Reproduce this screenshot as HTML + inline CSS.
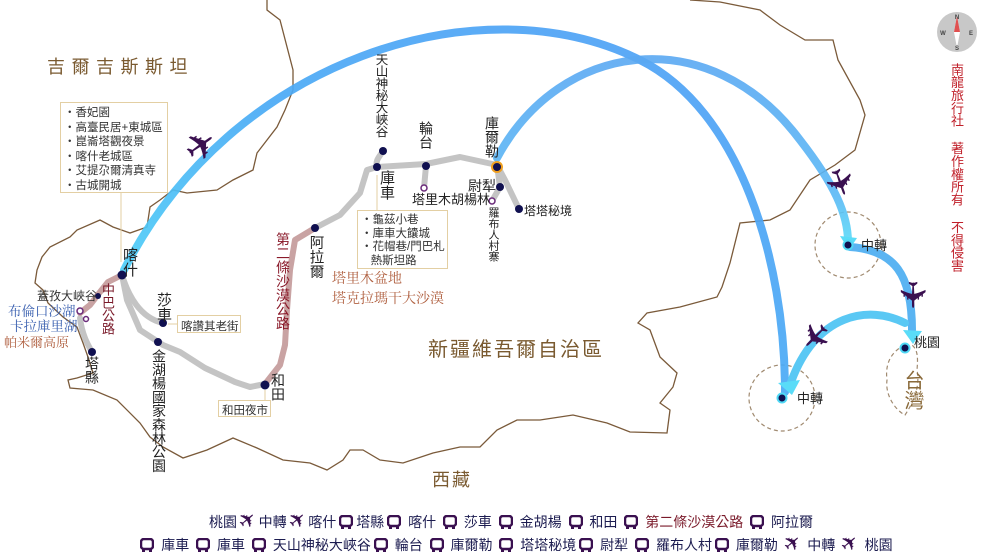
<!DOCTYPE html>
<html><head><meta charset="utf-8">
<style>
body{margin:0;background:#fff}
#w{position:relative;width:990px;height:560px;overflow:hidden;font-family:"Liberation Sans","Noto Sans CJK TC",sans-serif;color:#222}
.a{position:absolute;white-space:nowrap;line-height:1}
.v{position:absolute;writing-mode:vertical-rl;text-orientation:upright;line-height:1;white-space:nowrap}
.box{position:absolute;border:1px solid #e3cfa3;background:#fff;font-size:11.5px;color:#333;box-sizing:border-box;white-space:nowrap;overflow:hidden}
.leg{position:absolute;left:0;width:1022px;text-align:center;font-size:14px;color:#1c1c50;white-space:nowrap;line-height:18px}
.leg svg{vertical-align:-2px;margin:0 3px}
.pl{color:#3a1050;font-size:21px;font-family:"DejaVu Sans",sans-serif;display:inline-block;transform:rotate(-40deg);margin:0 2px;line-height:1}
.mp{position:absolute;margin:0}
</style></head><body><div id="w">
<svg width="990" height="560" style="position:absolute;left:0;top:0">
<defs>
<linearGradient id="g1" x1="0" y1="1" x2="1" y2="0"><stop offset="0" stop-color="#4fe0f8"/><stop offset="0.5" stop-color="#4aaaf5"/><stop offset="1" stop-color="#4f9ff5"/></linearGradient>
<linearGradient id="g2" x1="0" y1="0" x2="0" y2="1"><stop offset="0" stop-color="#5aa8f2"/><stop offset="0.75" stop-color="#5ab8f5"/><stop offset="1" stop-color="#5adaf7"/></linearGradient>
</defs>
<g fill="none" stroke="#7a5a3a" stroke-width="1.3">
<path d="M267,0 L267,10 280,20 293,70 293,90 285,110 277,127 257,153 253,170 233,180 217,190 187,193 173,190 160,200 150,207 147,227 130,233 113,227 100,220 77,230 70,237 50,247 42,257 37,270 35,283 43,290 48,303 63,317 77,327 83,343 88,357 93,373 77,378 68,380 70,388 93,390 117,400 140,423 150,437 163,447 183,458 207,450 233,438 257,448 283,460 310,463 327,470 343,460 350,450 363,450 380,460 403,463 433,453 460,447 480,447 497,430 517,420 540,420 573,415 607,423 630,432 667,433 670,410 660,403 673,387 677,373 660,357 650,330 638,323 647,313 680,307 717,297 722,287 730,263 740,223 770,220 790,210 810,180 835,165 855,150 865,115 860,100 838,60 833,40 805,40 780,25 760,10 720,2 690,0"/>
</g>
<g fill="none" stroke="#a08a70" stroke-width="1.2" stroke-dasharray="4,3">
<circle cx="848" cy="245" r="33"/><circle cx="782" cy="398" r="33"/>
<path d="M905,345 C890,352 885,365 887,380 C885,395 895,410 905,415 C915,400 920,385 917,370 C918,358 918,350 912,345"/>
</g>
<g fill="none" stroke-linecap="round" stroke-linejoin="round">
<path d="M122,275 L127,300 140,330 163,345 180,352 205,368 235,382 250,387 265,384" stroke="#c4c4c4" stroke-width="6"/>
<path d="M122,275 C128,295 140,318 163,323" stroke="#c4c4c4" stroke-width="6"/>
<path d="M80,318 C82,335 88,345 92,352" stroke="#c4c4c4" stroke-width="6"/>
<path d="M122,275 L108,282 100,292 90,305 80,313" stroke="#c9a3a3" stroke-width="6"/>
<path d="M265,384 L280,365 285,345 287,310 290,270 295,240 315,228" stroke="#c9a3a3" stroke-width="6"/>
<path d="M315,228 L340,215 360,193 367,170 377,167 M377,167 C375,160 380,156 383,151 M377,167 L426,164 460,157 497,165 500,187 M426,166 L424,188 M497,165 L505,180 519,209 M500,187 L492,201" stroke="#c4c4c4" stroke-width="6"/>
</g>
<g fill="none" stroke-linecap="round">
<path d="M124,270 C230,60 480,-20 640,60 C740,110 785,260 785,392" stroke="url(#g1)" stroke-width="8" opacity="0.92"/>
<path d="M497,158 C560,40 710,20 800,140 C835,185 848,215 848,242" stroke="url(#g2)" stroke-width="8" opacity="0.9"/>
<path d="M850,247 C895,250 912,275 912,330" stroke="#5ab4f2" stroke-width="8"/>
<path d="M905,323 C870,305 815,312 790,385" stroke="#5ac8f4" stroke-width="8"/>
</g>
<g fill="#5adcf8"><path d="M778,383 L792,395 800,380Z"/><path d="M840,236 L849,250 857,238Z"/><path d="M903,330 L913,344 922,331Z"/></g>
<g fill="#101050">
<circle cx="122" cy="275" r="4.5"/><circle cx="163" cy="323" r="4"/><circle cx="158" cy="342" r="4"/><circle cx="92" cy="352" r="4"/><circle cx="265" cy="385" r="4.5"/><circle cx="315" cy="228" r="4"/><circle cx="377" cy="167" r="4"/><circle cx="383" cy="151" r="4"/><circle cx="426" cy="166" r="4"/><circle cx="500" cy="187" r="4"/><circle cx="519" cy="209" r="4"/><circle cx="98" cy="296" r="3"/>
<circle cx="848" cy="245" r="4.5" stroke="#4fd8f5" stroke-width="2"/><circle cx="782" cy="398" r="4.5" stroke="#4fd8f5" stroke-width="2"/><circle cx="905" cy="348" r="4.5" stroke="#4fd8f5" stroke-width="2"/>
</g>
<circle cx="497" cy="167" r="5" fill="#101050" stroke="#f0a020" stroke-width="2"/>
<g fill="#fff" stroke="#6a2a7a" stroke-width="1.5"><circle cx="424" cy="188" r="3"/><circle cx="492" cy="201" r="3"/><circle cx="80" cy="311" r="3"/><circle cx="86" cy="319" r="2.5"/></g>
<g stroke="#e3cfa3" stroke-width="1"><line x1="121" y1="192" x2="121" y2="262"/><line x1="377" y1="175" x2="377" y2="210"/><line x1="168" y1="324" x2="177" y2="324"/><line x1="265" y1="390" x2="265" y2="400"/></g>
<circle cx="957" cy="32" r="20" fill="#c8c8c8"/>
<path d="M957,16 L960,32 957,48 954,32Z" fill="#fff"/><path d="M957,16 L960,32 954,32Z" fill="#e05050"/>
<g font-size="6" font-family="Liberation Sans" fill="#444" text-anchor="middle" font-weight="bold"><text x="957" y="19">N</text><text x="957" y="50">S</text><text x="943" y="35">W</text><text x="971" y="35">E</text></g>
</svg>

<div class="pl mp" style="left:185px;top:127px;font-size:38px;transform:rotate(-35deg)">✈</div>
<div class="pl mp" style="left:823px;top:165px;font-size:36px;transform:rotate(70deg)">✈</div>
<div class="pl mp" style="left:896px;top:277px;font-size:36px;transform:rotate(90deg)">✈</div>
<div class="pl mp" style="left:799px;top:317px;font-size:36px;transform:rotate(135deg)">✈</div>

<div class="a" style="left:47px;top:58px;font-size:18px;letter-spacing:6.5px;color:#7a5a30">吉爾吉斯斯坦</div>
<div class="box" style="left:60px;top:102px;width:108px;height:91px;padding:3px 0 0 3px;line-height:14.5px">・香妃園<br>・高臺民居+東城區<br>・崑崙塔觀夜景<br>・喀什老城區<br>・艾提尕爾清真寺<br>・古城開城</div>
<div class="v" style="left:122px;top:247px;font-size:15px">喀什</div>
<div class="v" style="left:101px;top:283px;font-size:13px;color:#7a1a2a">中巴公路</div>
<div class="a" style="left:37px;top:290px;font-size:12px;color:#333">蓋孜大峽谷</div>
<div class="a" style="left:8px;top:305px;font-size:13.5px;color:#3a60b0;font-family:'Liberation Serif','Noto Serif CJK SC',serif">布倫口沙湖</div>
<div class="a" style="left:10px;top:320px;font-size:13.5px;color:#3a60b0;font-family:'Liberation Serif','Noto Serif CJK SC',serif">卡拉庫里湖</div>
<div class="a" style="left:4px;top:336px;font-size:13px;color:#b06040;font-family:'Liberation Serif','Noto Serif CJK SC',serif">帕米爾高原</div>
<div class="v" style="left:85px;top:356px;font-size:14px">塔縣</div>
<div class="v" style="left:156px;top:292px;font-size:15px">莎車</div>
<div class="box" style="left:177px;top:315px;width:64px;height:18px;padding:2px 0 0 3px">喀讚其老街</div>
<div class="v" style="left:152px;top:349px;font-size:14px;letter-spacing:-0.3px">金湖楊國家森林公園</div>
<div class="v" style="left:271px;top:373px;font-size:14px">和田</div>
<div class="box" style="left:218px;top:400px;width:53px;height:17px;padding:1px 0 0 3px">和田夜市</div>
<div class="v" style="left:276px;top:232px;font-size:14px;color:#8a1a2a">第二條沙漠公路</div>
<div class="v" style="left:308px;top:235px;font-size:14.5px">阿拉爾</div>
<div class="a" style="left:332px;top:273px;font-size:14px;color:#b06040;font-family:'Liberation Serif','Noto Serif CJK SC',serif">塔里木盆地</div>
<div class="a" style="left:332px;top:293px;font-size:14px;color:#b06040;font-family:'Liberation Serif','Noto Serif CJK SC',serif">塔克拉瑪干大沙漠</div>
<div class="v" style="left:374px;top:53px;font-size:12.5px;letter-spacing:-0.5px">天山神秘大峽谷</div>
<div class="v" style="left:379px;top:170px;font-size:15px">庫車</div>
<div class="box" style="left:357px;top:210px;width:91px;height:59px;padding:3px 0 0 3px;line-height:13.5px">・龜茲小巷<br>・庫車大饢城<br>・花帽巷/門巴札<br>&nbsp;&nbsp;&nbsp;熱斯坦路</div>
<div class="v" style="left:419px;top:121px;font-size:14px">輪台</div>
<div class="a" style="left:412px;top:193px;font-size:13px">塔里木胡楊林</div>
<div class="v" style="left:485px;top:116px;font-size:14px">庫爾勒</div>
<div class="a" style="left:468px;top:179px;font-size:14px">尉犁</div>
<div class="v" style="left:487px;top:207px;font-size:11px">羅布人村寨</div>
<div class="a" style="left:524px;top:205px;font-size:12px">塔塔秘境</div>
<div class="a" style="left:428px;top:340px;font-size:20px;letter-spacing:2px;color:#7a5a30">新疆維吾爾自治區</div>
<div class="a" style="left:432px;top:471px;font-size:18px;letter-spacing:2px;color:#7a5a30">西藏</div>
<div class="a" style="left:861px;top:239px;font-size:13px">中轉</div>
<div class="a" style="left:914px;top:336px;font-size:13px">桃園</div>
<div class="a" style="left:797px;top:392px;font-size:13px">中轉</div>
<div class="v" style="left:902px;top:370px;font-size:20px;color:#8a6a3a">台灣</div>
<div class="v" style="left:950px;top:63px;font-size:13px;color:#c0202a;letter-spacing:-0.2px">南龍旅行社 著作權所有 不得侵害</div>

<div class="leg" style="top:510px">桃園<span class="pl">✈</span>中轉<span class="pl">✈</span>喀什<svg width="14" height="14"><rect x="1" y="1" width="12" height="10" rx="3" fill="none" stroke="#3a1050" stroke-width="2.5"/><rect x="2" y="11" width="3" height="3" fill="#3a1050"/><rect x="9" y="11" width="3" height="3" fill="#3a1050"/></svg>塔縣<svg width="14" height="14"><rect x="1" y="1" width="12" height="10" rx="3" fill="none" stroke="#3a1050" stroke-width="2.5"/><rect x="2" y="11" width="3" height="3" fill="#3a1050"/><rect x="9" y="11" width="3" height="3" fill="#3a1050"/></svg> 喀什 <svg width="14" height="14"><rect x="1" y="1" width="12" height="10" rx="3" fill="none" stroke="#3a1050" stroke-width="2.5"/><rect x="2" y="11" width="3" height="3" fill="#3a1050"/><rect x="9" y="11" width="3" height="3" fill="#3a1050"/></svg> 莎車 <svg width="14" height="14"><rect x="1" y="1" width="12" height="10" rx="3" fill="none" stroke="#3a1050" stroke-width="2.5"/><rect x="2" y="11" width="3" height="3" fill="#3a1050"/><rect x="9" y="11" width="3" height="3" fill="#3a1050"/></svg> 金胡楊 <svg width="14" height="14"><rect x="1" y="1" width="12" height="10" rx="3" fill="none" stroke="#3a1050" stroke-width="2.5"/><rect x="2" y="11" width="3" height="3" fill="#3a1050"/><rect x="9" y="11" width="3" height="3" fill="#3a1050"/></svg> 和田 <svg width="14" height="14"><rect x="1" y="1" width="12" height="10" rx="3" fill="none" stroke="#3a1050" stroke-width="2.5"/><rect x="2" y="11" width="3" height="3" fill="#3a1050"/><rect x="9" y="11" width="3" height="3" fill="#3a1050"/></svg> <span style="color:#7a1a2a">第二條沙漠公路</span> <svg width="14" height="14"><rect x="1" y="1" width="12" height="10" rx="3" fill="none" stroke="#3a1050" stroke-width="2.5"/><rect x="2" y="11" width="3" height="3" fill="#3a1050"/><rect x="9" y="11" width="3" height="3" fill="#3a1050"/></svg> 阿拉爾</div>
<div class="leg" style="top:533px;width:1030px"><svg width="14" height="14"><rect x="1" y="1" width="12" height="10" rx="3" fill="none" stroke="#3a1050" stroke-width="2.5"/><rect x="2" y="11" width="3" height="3" fill="#3a1050"/><rect x="9" y="11" width="3" height="3" fill="#3a1050"/></svg> 庫車 <svg width="14" height="14"><rect x="1" y="1" width="12" height="10" rx="3" fill="none" stroke="#3a1050" stroke-width="2.5"/><rect x="2" y="11" width="3" height="3" fill="#3a1050"/><rect x="9" y="11" width="3" height="3" fill="#3a1050"/></svg> 庫車 <svg width="14" height="14"><rect x="1" y="1" width="12" height="10" rx="3" fill="none" stroke="#3a1050" stroke-width="2.5"/><rect x="2" y="11" width="3" height="3" fill="#3a1050"/><rect x="9" y="11" width="3" height="3" fill="#3a1050"/></svg> 天山神秘大峽谷<svg width="14" height="14"><rect x="1" y="1" width="12" height="10" rx="3" fill="none" stroke="#3a1050" stroke-width="2.5"/><rect x="2" y="11" width="3" height="3" fill="#3a1050"/><rect x="9" y="11" width="3" height="3" fill="#3a1050"/></svg> 輪台 <svg width="14" height="14"><rect x="1" y="1" width="12" height="10" rx="3" fill="none" stroke="#3a1050" stroke-width="2.5"/><rect x="2" y="11" width="3" height="3" fill="#3a1050"/><rect x="9" y="11" width="3" height="3" fill="#3a1050"/></svg> 庫爾勒 <svg width="14" height="14"><rect x="1" y="1" width="12" height="10" rx="3" fill="none" stroke="#3a1050" stroke-width="2.5"/><rect x="2" y="11" width="3" height="3" fill="#3a1050"/><rect x="9" y="11" width="3" height="3" fill="#3a1050"/></svg> 塔塔秘境<svg width="14" height="14"><rect x="1" y="1" width="12" height="10" rx="3" fill="none" stroke="#3a1050" stroke-width="2.5"/><rect x="2" y="11" width="3" height="3" fill="#3a1050"/><rect x="9" y="11" width="3" height="3" fill="#3a1050"/></svg> 尉犁 <svg width="14" height="14"><rect x="1" y="1" width="12" height="10" rx="3" fill="none" stroke="#3a1050" stroke-width="2.5"/><rect x="2" y="11" width="3" height="3" fill="#3a1050"/><rect x="9" y="11" width="3" height="3" fill="#3a1050"/></svg> 羅布人村<svg width="14" height="14"><rect x="1" y="1" width="12" height="10" rx="3" fill="none" stroke="#3a1050" stroke-width="2.5"/><rect x="2" y="11" width="3" height="3" fill="#3a1050"/><rect x="9" y="11" width="3" height="3" fill="#3a1050"/></svg> 庫爾勒 <span class="pl">✈</span> 中轉 <span class="pl">✈</span> 桃園</div>
</div></body></html>
